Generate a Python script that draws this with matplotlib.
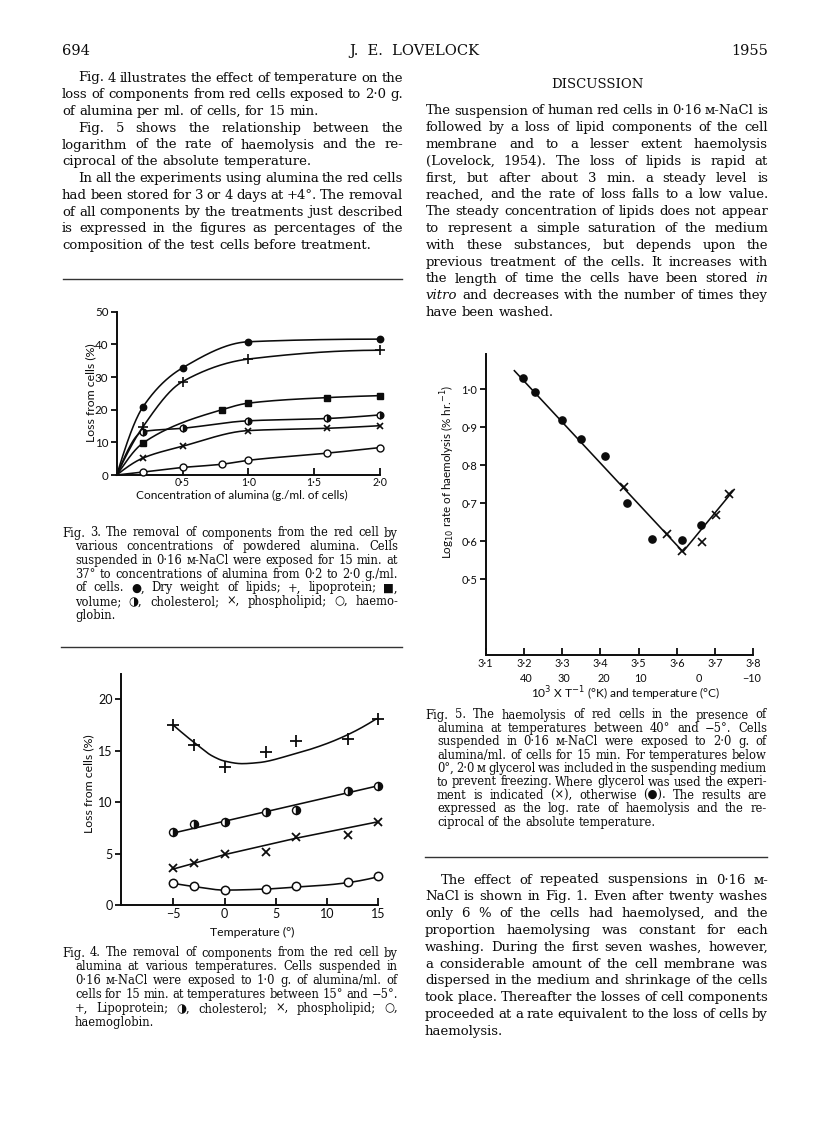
import numpy as np
import matplotlib
matplotlib.use('Agg')
import matplotlib.pyplot as plt
from matplotlib.lines import Line2D

# ---------------- data: Fig. 3 (loss vs alumina concentration) ----------------
f3_conc_lipid = [0.0, 0.2, 0.5, 1.0, 2.0]
f3_lipid = [0.0, 20.9, 32.8, 40.8, 41.6]
f3_conc_lipo = [0.0, 0.2, 0.5, 1.0, 2.0]
f3_lipo = [0.0, 14.8, 28.6, 35.5, 38.2]
f3_conc_vol = [0.0, 0.2, 0.8, 1.0, 1.6, 2.0]
f3_vol = [0.0, 9.8, 20.0, 22.0, 23.7, 24.3]
f3_conc_chol = [0.0, 0.2, 0.5, 1.0, 1.6, 2.0]
f3_chol = [0.0, 13.3, 14.3, 16.6, 17.3, 18.4]
f3_conc_phos = [0.0, 0.2, 0.5, 1.0, 1.6, 2.0]
f3_phos = [0.0, 5.2, 8.8, 13.6, 14.3, 15.1]
f3_conc_hb = [0.0, 0.2, 0.5, 0.8, 1.0, 1.6, 2.0]
f3_hb = [0.0, 0.9, 2.3, 3.3, 4.5, 6.7, 8.4]
f3_xticks = [0.5, 1.0, 1.5, 2.0]
f3_xticklabels = ['0·5', '1·0', '1·5', '2·0']
f3_yticks = [0, 10, 20, 30, 40, 50]

# ---------------- data: Fig. 4 (loss vs temperature) ----------------
f4_temp = [-5, -3, 0, 4, 7, 12, 15]
f4_lipo = [17.5, 15.6, 13.4, 14.9, 16.0, 16.1, 18.1]
f4_chol = [7.1, 7.9, 8.1, 9.0, 9.2, 11.1, 11.6]
f4_phos = [3.6, 4.1, 5.0, 5.2, 6.6, 6.8, 8.1]
f4_hb = [2.1, 1.8, 1.45, 1.6, 1.8, 2.2, 2.8]
# drawn (fitted) curves
f4_lipo_curve_t = [-5, -2.7, -1.2, 0, 1.7, 3.3, 6.5, 9.7, 12.3, 14.8]
f4_lipo_curve = [17.5, 15.6, 14.5, 14.0, 13.75, 13.85, 14.6, 15.6, 16.7, 18.1]
f4_chol_line_t = [-5, 15]
f4_chol_line = [7.0, 11.6]
f4_phos_line_t = [-5, -3, 0, 7, 15]
f4_phos_line = [3.5, 4.05, 4.9, 6.5, 8.1]
f4_hb_curve_t = [-5, -3, 0, 4, 7, 10, 12.2, 15]
f4_hb_curve = [2.1, 1.8, 1.45, 1.55, 1.75, 1.95, 2.2, 2.75]
f4_xticks = [-5, 0, 5, 10, 15]
f4_xticklabels = ['−5', '0', '5', '10', '15']
f4_yticks = [0, 5, 10, 15, 20]

# ---------------- data: Fig. 5 (log rate vs 1/T) ----------------
f5_dot_x = [3.198, 3.230, 3.299, 3.350, 3.411, 3.470, 3.535, 3.613, 3.663]
f5_dot_y = [1.029, 0.993, 0.919, 0.869, 0.825, 0.701, 0.605, 0.603, 0.642]
f5_cross_x = [3.463, 3.574, 3.613, 3.666, 3.703, 3.736]
f5_cross_y = [0.742, 0.620, 0.574, 0.598, 0.669, 0.725]
f5_fit_x = [3.175, 3.616, 3.750]
f5_fit_y = [1.049, 0.572, 0.736]
f5_xticks = [3.1, 3.2, 3.3, 3.4, 3.5, 3.6, 3.7, 3.8]
f5_xticklabels = ['3·1', '3·2', '3·3', '3·4', '3·5', '3·6', '3·7', '3·8']
f5_temp_pos = [3.205, 3.305, 3.408, 3.505, 3.657, 3.795]
f5_temp_labels = ['40', '30', '20', '10', '0', '−10']
f5_yticks = [0.5, 0.6, 0.7, 0.8, 0.9, 1.0]
f5_yticklabels = ['0·5', '0·6', '0·7', '0·8', '0·9', '1·0']

# ---------------- page text ----------------
T = '\u2009'
left_body = [
    "Fig. 4 illustrates the effect of temperature on the",
    "loss of components from red cells exposed to 2·0" + T + "g.",
    "of alumina per ml. of cells, for 15 min.",
    "Fig. 5 shows the relationship between the",
    "logarithm of the rate of haemolysis and the re-",
    "ciprocal of the absolute temperature.",
    "In all the experiments using alumina the red cells",
    "had been stored for 3 or 4 days at +4°. The removal",
    "of all components by the treatments just described",
    "is expressed in the figures as percentages of the",
    "composition of the test cells before treatment.",
]
left_body_indent = [1, 0, 0, 1, 0, 0, 1, 0, 0, 0, 0]
left_body_just = [1, 1, 0, 1, 1, 0, 1, 1, 1, 1, 0]

disc_body = [
    "The suspension of human red cells in 0·16" + T + "ᴍ-NaCl is",
    "followed by a loss of lipid components of the cell",
    "membrane and to a lesser extent haemolysis",
    "(Lovelock, 1954). The loss of lipids is rapid at",
    "first, but after about 3" + T + "min. a steady level is",
    "reached, and the rate of loss falls to a low value.",
    "The steady concentration of lipids does not appear",
    "to represent a simple saturation of the medium",
    "with these substances, but depends upon the",
    "previous treatment of the cells.  It increases with",
    "the length of time the cells have been stored §in",
    "§vitro and decreases with the number of times they",
    "have been washed.",
]

bottom_body = [
    "The effect of repeated suspensions in 0·16" + T + "ᴍ-",
    "NaCl is shown in Fig. 1.  Even after twenty washes",
    "only 6" + T + "% of the cells had haemolysed, and the",
    "proportion haemolysing was constant for each",
    "washing.  During the first seven washes, however,",
    "a considerable amount of the cell membrane was",
    "dispersed in the medium and shrinkage of the cells",
    "took place. Thereafter the losses of cell components",
    "proceeded at a rate equivalent to the loss of cells by",
    "haemolysis.",
]

cap3 = [
    "Fig. 3.  The removal of components from the red cell by",
    "various concentrations of powdered alumina.  Cells",
    "suspended in 0·16" + T + "ᴍ-NaCl were exposed for 15" + T + "min. at",
    "37° to concentrations of alumina from 0·2 to 2·0" + T + "g./ml.",
    "of cells.  ●, Dry weight of lipids;  +, lipoprotein;  ■,",
    "volume;  ◑, cholesterol;  ×, phospholipid;  ○, haemo-",
    "globin.",
]
cap4 = [
    "Fig. 4.  The removal of components from the red cell by",
    "alumina at various temperatures.  Cells suspended in",
    "0·16" + T + "ᴍ-NaCl were exposed to 1·0" + T + "g. of alumina/ml. of",
    "cells for 15" + T + "min. at temperatures between 15° and −5°.",
    "+, Lipoprotein;  ◑, cholesterol;  ×, phospholipid;  ○,",
    "haemoglobin.",
]
cap5 = [
    "Fig. 5.  The haemolysis of red cells in the presence of",
    "alumina at temperatures between 40° and −5°.  Cells",
    "suspended in 0·16" + T + "ᴍ-NaCl were exposed to 2·0" + T + "g. of",
    "alumina/ml. of cells for 15" + T + "min.  For temperatures below",
    "0°, 2·0" + T + "ᴍ glycerol was included in the suspending medium",
    "to prevent freezing. Where glycerol was used the experi-",
    "ment is indicated (×), otherwise (●). The results are",
    "expressed as the log. rate of haemolysis and the re-",
    "ciprocal of the absolute temperature.",
]

# ---------------- page setup ----------------
W, H = 816, 1145
SERIF = ['DejaVu Serif', 'DejaVu Sans']
SANS = ['Lato', 'DejaVu Sans']
plt.rcParams['font.family'] = SANS
plt.rcParams['mathtext.fontset'] = 'dejavusans'

fig = plt.figure(figsize=(W / 100, H / 100), dpi=100)
fig.patch.set_facecolor('white')
renderer = fig.canvas.get_renderer()
INK = '#0c0c0c'


def fx(x):
    return x / W


def fy(y):
    return 1 - y / H


_wcache = {}


def word_w(w, size, style='normal'):
    key = (w, size, style)
    if key not in _wcache:
        t = fig.text(0, 0, w, fontsize=size, family=SERIF, style=style)
        _wcache[key] = t.get_window_extent(renderer).width
        t.remove()
    return _wcache[key]


def split_words(line):
    out = []
    for w in line.split():
        if w.startswith('§'):
            out.append((w[1:], 'italic'))
        else:
            out.append((w, 'normal'))
    return out


def fit_size(blocks, base, min_gap=0.2):
    worst = 1.0
    for lines, xs, x1 in blocks:
        for line, x0 in zip(lines, xs):
            ws = split_words(line)
            need = sum(word_w(w, base, s) for w, s in ws) + (len(ws) - 1) * min_gap * base * 100 / 72
            worst = min(worst, (x1 - x0) / need)
    return base * worst


def draw_lines(lines, xs, x1, y0, step, size, just):
    for i, (line, x0) in enumerate(zip(lines, xs)):
        ws = split_words(line)
        widths = [word_w(w, size, s) for w, s in ws]
        space = word_w('a a', size) - 2 * word_w('a', size)
        if just[i] and len(ws) > 1:
            gap = (x1 - x0 - sum(widths)) / (len(ws) - 1)
        else:
            gap = space
        x = x0
        y = y0 + i * step
        for (w, s), wd in zip(ws, widths):
            fig.text(fx(x), fy(y), w, fontsize=size, family=SERIF, style=s,
                     ha='left', va='baseline', color=INK)
            x += wd + gap


def hrule(x0, x1, y, lw=1.0):
    fig.add_artist(Line2D([fx(x0), fx(x1)], [fy(y), fy(y)], color='#333333', lw=lw))


# text block geometry
body_blocks = [
    (left_body, [78 if k else 62 for k in left_body_indent], 403),
    (disc_body, [426] * len(disc_body), 768),
    (bottom_body, [441] + [425] * (len(bottom_body) - 1), 768),
]
cap_blocks = [
    (cap3, [62] + [75] * (len(cap3) - 1), 398),
    (cap4, [62] + [75] * (len(cap4) - 1), 398),
    (cap5, [425] + [437] * (len(cap5) - 1), 767),
]
body_size = min(fit_size(body_blocks, 10.0), 10.0)
cap_size = min(fit_size(cap_blocks, 8.8), 8.8)

# header
fig.text(fx(62), fy(55), '694', fontsize=10.5, family=SERIF, ha='left', va='baseline', color=INK)
fig.text(fx(414), fy(55), 'J.  E.  LOVELOCK', fontsize=10.5, family=SERIF, ha='center', va='baseline', color=INK)
fig.text(fx(768), fy(55), '1955', fontsize=10.5, family=SERIF, ha='right', va='baseline', color=INK)
fig.text(fx(597), fy(88), 'DISCUSSION', fontsize=body_size, family=SERIF, ha='center', va='baseline', color=INK)

draw_lines(left_body, body_blocks[0][1], 403, 81.5, 16.75, body_size, left_body_just)
draw_lines(disc_body, body_blocks[1][1], 768, 114.5, 16.8, body_size, [1] * 12 + [0])
draw_lines(bottom_body, body_blocks[2][1], 768, 883.5, 16.8, body_size, [1] * 9 + [0])
draw_lines(cap3, cap_blocks[0][1], 398, 536.5, 13.7, cap_size, [1] * 6 + [0])
draw_lines(cap4, cap_blocks[1][1], 398, 956.5, 13.85, cap_size, [1] * 5 + [0])
draw_lines(cap5, cap_blocks[2][1], 767, 718.5, 13.4, cap_size, [1] * 8 + [0])

hrule(63, 402, 279)
hrule(61, 402, 647)
hrule(425, 767, 857)


# ---------------- helpers for axes ----------------
def ax_at(x0, y_top, x1, y_bot):
    return fig.add_axes([fx(x0), fy(y_bot), (x1 - x0) / W, (y_bot - y_top) / H])


def style_axes(ax, xsize, ysize, xpad=2):
    for s in ['top', 'right']:
        ax.spines[s].set_visible(False)
    for s in ['left', 'bottom']:
        ax.spines[s].set_linewidth(1.4)
        ax.spines[s].set_color(INK)
    ax.tick_params(axis='y', direction='out', length=4, width=1.3, pad=2,
                   labelsize=ysize, colors=INK)
    ax.tick_params(axis='x', direction='in', length=5, width=1.3, pad=xpad,
                   labelsize=xsize, colors=INK)
    ax.patch.set_alpha(0)


def pchip(x, y, n=300):
    x = np.asarray(x, float)
    y = np.asarray(y, float)
    h = np.diff(x)
    d = np.diff(y) / h
    m = np.zeros_like(y)
    for k in range(1, len(x) - 1):
        if d[k - 1] * d[k] > 0:
            w1 = 2 * h[k] + h[k - 1]
            w2 = h[k] + 2 * h[k - 1]
            m[k] = (w1 + w2) / (w1 / d[k - 1] + w2 / d[k])

    def endslope(h0, h1, d0, d1):
        s = ((2 * h0 + h1) * d0 - h0 * d1) / (h0 + h1)
        if np.sign(s) != np.sign(d0):
            s = 0.0
        elif np.sign(d0) != np.sign(d1) and abs(s) > abs(3 * d0):
            s = 3 * d0
        return s

    if len(x) > 2:
        m[0] = endslope(h[0], h[1], d[0], d[1])
        m[-1] = endslope(h[-1], h[-2], d[-1], d[-2])
    else:
        m[:] = d[0]
    xs = np.linspace(x[0], x[-1], n)
    idx = np.clip(np.searchsorted(x, xs) - 1, 0, len(x) - 2)
    t = (xs - x[idx]) / h[idx]
    h00 = 2 * t ** 3 - 3 * t ** 2 + 1
    h10 = t ** 3 - 2 * t ** 2 + t
    h01 = -2 * t ** 3 + 3 * t ** 2
    h11 = t ** 3 - t ** 2
    ys = h00 * y[idx] + h10 * h[idx] * m[idx] + h01 * y[idx + 1] + h11 * h[idx] * m[idx + 1]
    return xs, ys


LW = 1.15
# ---------------- Fig. 3 ----------------
ax3 = ax_at(116.7, 311.7, 380, 475)
style_axes(ax3, 7.6, 8.3, xpad=1.5)
ax3.set_xlim(0, 2.0)
ax3.set_ylim(0, 50)
series3 = [
    (f3_conc_lipid, f3_lipid, dict(marker='o', ms=4.6, mfc=INK, mec=INK)),
    (f3_conc_lipo, f3_lipo, dict(marker='+', ms=7, mew=1.2, mec=INK)),
    (f3_conc_vol, f3_vol, dict(marker='s', ms=4.4, mfc=INK, mec=INK)),
    (f3_conc_chol, f3_chol, dict(marker='o', ms=4.8, mfc=INK, mec=INK, fillstyle='right',
                                 markerfacecoloralt='white', mew=1.0)),
    (f3_conc_phos, f3_phos, dict(marker='x', ms=5, mew=1.2, mec=INK)),
    (f3_conc_hb, f3_hb, dict(marker='o', ms=5, mfc='white', mec=INK, mew=1.0)),
]
for cx, cy, mk in series3:
    xs, ys = pchip(cx, cy)
    ax3.plot(xs, ys, color=INK, lw=LW, clip_on=False, zorder=2)
    ax3.plot(cx[1:], cy[1:], ls='none', clip_on=False, zorder=3, **mk)
ax3.set_xticks(f3_xticks)
ax3.set_xticklabels(f3_xticklabels)
ax3.set_yticks(f3_yticks)
fig.text(fx(242), fy(499), 'Concentration of alumina (g./ml. of cells)', fontsize=8.6,
         ha='center', va='baseline', color=INK)
fig.text(fx(91), fy(393), 'Loss from cells (%)', fontsize=8.8, rotation=90,
         ha='center', va='center', color=INK)

# ---------------- Fig. 4 ----------------
ax4 = ax_at(121, 673.7, 378.3, 905)
style_axes(ax4, 9, 9, xpad=2)
ax4.set_xlim(-10.1, 15)
ax4.set_ylim(0, 22.5)
xs, ys = pchip(f4_lipo_curve_t, f4_lipo_curve)
ax4.plot(xs, ys, color=INK, lw=LW, clip_on=False)
ax4.plot(f4_chol_line_t, f4_chol_line, color=INK, lw=LW, clip_on=False)
ax4.plot(f4_phos_line_t, f4_phos_line, color=INK, lw=LW, clip_on=False)
xs, ys = pchip(f4_hb_curve_t, f4_hb_curve)
ax4.plot(xs, ys, color=INK, lw=LW, clip_on=False)
ax4.plot(f4_temp, f4_lipo, ls='none', marker='+', ms=8.5, mew=1.3, mec=INK, clip_on=False, zorder=3)
ax4.plot(f4_temp, f4_chol, ls='none', marker='o', ms=5.8, mfc=INK, mec=INK, fillstyle='right',
         markerfacecoloralt='white', mew=1.0, clip_on=False, zorder=3)
ax4.plot(f4_temp, f4_phos, ls='none', marker='x', ms=6, mew=1.3, mec=INK, clip_on=False, zorder=3)
ax4.plot(f4_temp, f4_hb, ls='none', marker='o', ms=6, mfc='white', mec=INK, mew=1.1,
         clip_on=False, zorder=3)
ax4.set_xticks(f4_xticks)
ax4.set_xticklabels(f4_xticklabels)
ax4.set_yticks(f4_yticks)
fig.text(fx(252), fy(936), 'Temperature (°)', fontsize=8.8, ha='center', va='baseline', color=INK)
fig.text(fx(89), fy(784), 'Loss from cells (%)', fontsize=8.8, rotation=90,
         ha='center', va='center', color=INK)

# ---------------- Fig. 5 ----------------
ax5 = ax_at(485.7, 354, 753.3, 655)
style_axes(ax5, 7.8, 8.0, xpad=2)
ax5.set_xlim(3.1, 3.8)
ax5.set_ylim(0.3, 1.093)
ax5.plot(f5_fit_x, f5_fit_y, color=INK, lw=LW, clip_on=False)
ax5.plot(f5_dot_x, f5_dot_y, ls='none', marker='o', ms=5.2, mfc=INK, mec=INK, clip_on=False, zorder=3)
ax5.plot(f5_cross_x, f5_cross_y, ls='none', marker='x', ms=5.5, mew=1.2, mec=INK, clip_on=False, zorder=3)
ax5.set_xticks(f5_xticks)
ax5.set_xticklabels(f5_xticklabels)
ax5.set_yticks(f5_yticks)
ax5.set_yticklabels(f5_yticklabels)
for p, lab in zip(f5_temp_pos, f5_temp_labels):
    ax5.text(p, -0.079, lab, transform=ax5.get_xaxis_transform(), fontsize=7.8,
             ha='center', va='center', color=INK)
fig.text(fx(626), fy(698), r'10$^3$ X T$^{-1}$ (°K) and temperature (°C)', fontsize=8.6,
         ha='center', va='baseline', color=INK)
fig.text(fx(448), fy(472), r'Log$_{10}$ rate of haemolysis (% hr.$^{-1}$)', fontsize=8.4,
         rotation=90, ha='center', va='center', color=INK)

fig.savefig('out.png', dpi=100, facecolor='white')
